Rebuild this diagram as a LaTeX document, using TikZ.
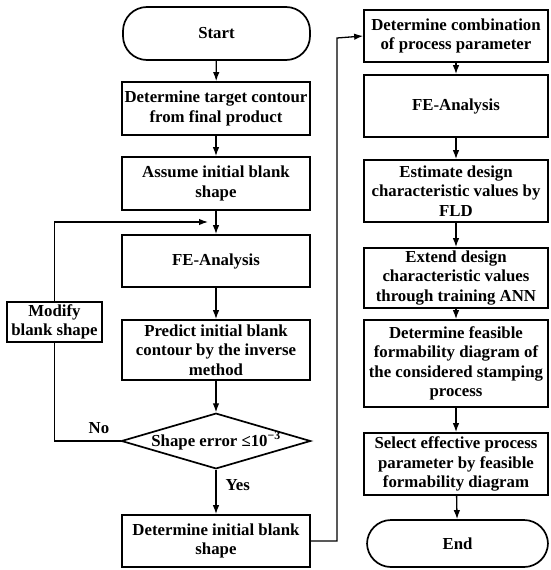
\documentclass[tikz,border=0pt]{standalone}
\usepackage{fontspec}
\setmainfont{Liberation Serif}
\usetikzlibrary{shapes.geometric,arrows.meta}
\begin{document}
\begin{tikzpicture}[x=1pt,y=-1pt,
  txt/.style={font=\fontsize{16.8}{19.5}\selectfont\bfseries},
  box/.style={txt, draw, line width=1.7pt, align=center, inner sep=0pt},
  lbox/.style={box, minimum width=188pt},
  rbox/.style={box, minimum width=184pt},
  term/.style={box, rounded corners=24pt},
  dec/.style={txt, draw, line width=1.7pt, diamond, aspect=3.4, inner sep=0pt, minimum width=185pt, minimum height=54pt},
  arr/.style={line width=1.3pt, -{Latex[length=9pt,width=6.5pt]}},
  ln/.style={line width=1.3pt}
]
\useasboundingbox (0,0) rectangle (550,570);
% left column
\node[term, minimum width=187pt, minimum height=53pt] (start) at (216.5,33.5) {Start};
\node[lbox, minimum height=53pt] (target) at (216,108.5) {Determine target contour\\from final product};
\node[lbox, minimum height=53pt] (assume) at (216,183.5) {Assume initial blank\\shape};
\node[lbox, minimum height=52pt] (fe1) at (216,261) {FE-Analysis};
\node[lbox, minimum height=60pt] (predict) at (216,350) {Predict initial blank\\contour by the inverse\\method};
\node[dec] (err) at (216,441) {Shape error ≤10\textsuperscript{−3}};
\node[lbox, minimum height=52pt] (detinit) at (216,541) {Determine initial blank\\shape};
\node[box, minimum width=95pt, minimum height=40pt] (modify) at (54.5,322) {Modify\\blank shape};
\node[txt] (no) at (99,428) {No};
\node[txt, anchor=west] (yes) at (222,485) {Yes};
\coordinate (join) at (208,222);
\coordinate (upl) at (337,38);
% right column
\node[rbox, minimum height=52pt] (comb) at (456,36) {Determine combination\\of process parameter};
\node[rbox, minimum height=62pt] (fe2) at (456,106) {FE-Analysis};
\node[rbox, minimum height=62pt] (est) at (456,191) {Estimate design\\characteristic values by\\FLD};
\node[rbox, minimum height=60pt] (ext) at (456,278) {Extend design\\characteristic values\\through training ANN};
\node[rbox, minimum height=87pt] (feas) at (456,363.5) {Determine feasible\\formability diagram of\\the considered stamping\\process};
\node[rbox, minimum height=62pt] (sel) at (456,464) {Select effective process\\parameter by feasible\\formability diagram};
\node[term, minimum width=181pt, minimum height=47pt] (end) at (457.5,543.5) {End};
% connectors left
\draw[arr] (start) -- (target);
\draw[arr] (target) -- (assume);
\draw[arr] (assume) -- (fe1);
\draw[arr] (fe1) -- (predict);
\draw[arr] (predict) -- (err);
\draw[arr] (err) -- (detinit);
\draw[ln] (err.west) -| (modify.south);
\draw[arr] (modify.north) |- (join);
\draw[arr] (detinit.east) -| (upl) -- (comb.west);
% connectors right
\draw[arr] (comb) -- (fe2);
\draw[arr] (fe2) -- (est);
\draw[arr] (est) -- (ext);
\draw[arr] (ext) -- (feas);
\draw[arr] (feas) -- (sel);
\draw[arr] (sel) -- (end);
\end{tikzpicture}
\end{document}
